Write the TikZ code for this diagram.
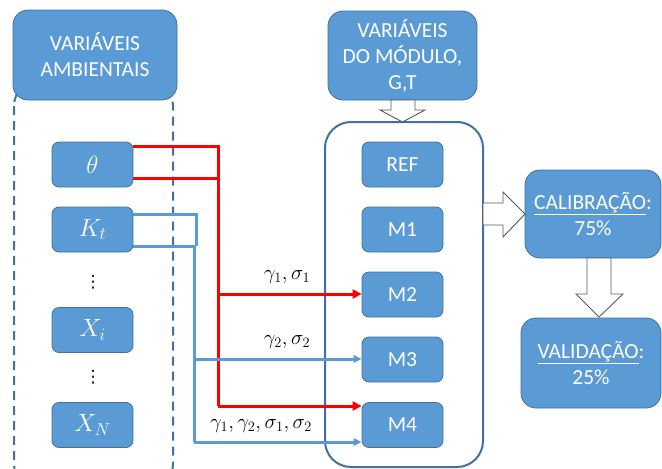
\documentclass[tikz,border=0pt]{standalone}
\usepackage{fontspec}
\setmainfont{Carlito}
\newfontfamily\symfont{DejaVu Sans}
\usetikzlibrary{arrows.meta,calc}
\definecolor{boxblue}{HTML}{5B9BD5}
\definecolor{edgeblue}{HTML}{41719C}
\definecolor{lineblue}{HTML}{5B9BD5}
\definecolor{redline}{HTML}{FF0000}
\definecolor{arrgray}{HTML}{595959}
\begin{document}
\begin{tikzpicture}[x=1pt,y=-1pt,
  blk/.style={draw=edgeblue, line width=0.8pt, fill=boxblue, rounded corners=#1, text=white, align=center, inner sep=0pt, font=\fontsize{21.5}{26}\selectfont},
  blk/.default=15pt,
  smallbox/.style={blk=7pt, minimum width=81pt, minimum height=45pt},
  mathbox/.style={smallbox, font=\fontsize{23}{26}\selectfont},
  frame/.style={draw=edgeblue, line width=2pt, rounded corners=26pt},
  redarr/.style={draw=redline, line width=3pt},
  bluearr/.style={draw=lineblue, line width=3pt},
  redtip/.style={-{Triangle[length=9pt,width=9pt]}},
  bluetip/.style={-{Triangle[length=8pt,width=7.5pt]}},
  lbl/.style={font=\fontsize{22}{26}\selectfont, inner sep=0pt},
  dotsym/.style={font=\symfont\fontsize{17}{20}\selectfont, inner sep=0pt},
  blockarrow/.style={draw=arrgray, line width=0.9pt, fill=white}
]
\useasboundingbox (0,0) rectangle (662,469);
% containers
\draw[frame, dashed, dash pattern=on 9pt off 6pt] (14,80) rectangle (173,490);
\draw[frame] (325,122) rectangle (483,467);
% header boxes
\node[blk, minimum width=164pt, minimum height=90pt] (amb) at (95,55) {VARIÁVEIS\\AMBIENTAIS};
\node[blk, minimum width=149pt, minimum height=89pt] (mod) at (402.5,55.5) {VARIÁVEIS\\DO MÓDULO,\\G,T};
% environment variables
\node[mathbox] (theta) at (92.5,164.5) {$\theta$};
\node[mathbox] (kt) at (92.5,229.5) {$K_t$};
\node[mathbox] (xi) at (92.5,330) {$X_i$};
\node[mathbox] (xn) at (92.5,425) {$X_N$};
\node[dotsym] (d1) at (93,282) {⋮};
\node[dotsym] (d2) at (93,377) {⋮};
% models
\node[smallbox] (ref) at (402.5,164.5) {REF};
\node[smallbox] (m1) at (402.5,229.5) {M1};
\node[smallbox] (m2) at (402.5,294.5) {M2};
\node[smallbox] (m3) at (402.5,359.5) {M3};
\node[smallbox] (m4) at (402.5,425) {M4};
% results
\node[blk, minimum width=136pt, minimum height=88pt] (cal) at (593,214) {\underline{CALIBRAÇÃO}:\\75\%};
\node[blk, minimum width=140pt, minimum height=90pt] (val) at (591,363) {\underline{VALIDAÇÃO}:\\25\%};
% block arrows
\draw[blockarrow] (391,100) -- (415,100) -- (415,110) -- (425,110) -- (402.5,122) -- (380,110) -- (391,110) -- cycle;
\draw[blockarrow] (483,203) -- (503,203) -- (503,192) -- (525,214) -- (503,237) -- (503,225) -- (483,225) -- cycle;
\draw[blockarrow] (587,258) -- (611,258) -- (611,294) -- (623,294) -- (599,317) -- (576,294) -- (587,294) -- cycle;
% red connectors
\coordinate (ra) at (218,146);
\coordinate (rb) at (218,178);
\coordinate (rc) at (218,294);
\coordinate (rd) at (218,406);
\draw[redarr] (theta.east |- ra) -- (ra) -- (rd);
\draw[redarr] (theta.east |- rb) -- (rb);
\draw[redarr, redtip] (rc) -- (m2.west |- rc);
\draw[redarr, redtip] (rd) -- (m4.west |- rd);
% blue connectors
\coordinate (ba) at (196,214);
\coordinate (bb) at (196,246);
\coordinate (bc) at (194,359);
\coordinate (bd) at (194,442);
\draw[bluearr] (kt.east |- ba) -- (ba) -- (bb);
\draw[bluearr] (kt.east |- bb) -- (194,246) -- (bd);
\draw[bluearr, bluetip] (bc) -- (m3.west |- bc);
\draw[bluearr, bluetip] (bd) -- (m4.west |- bd);
% labels
\node[lbl] (l1) at (287,277) {$\gamma_1,\sigma_1$};
\node[lbl] (l2) at (287,342) {$\gamma_2,\sigma_2$};
\node[lbl] (l3) at (261,426) {$\gamma_1,\gamma_2,\sigma_1,\sigma_2$};
\end{tikzpicture}
\end{document}
